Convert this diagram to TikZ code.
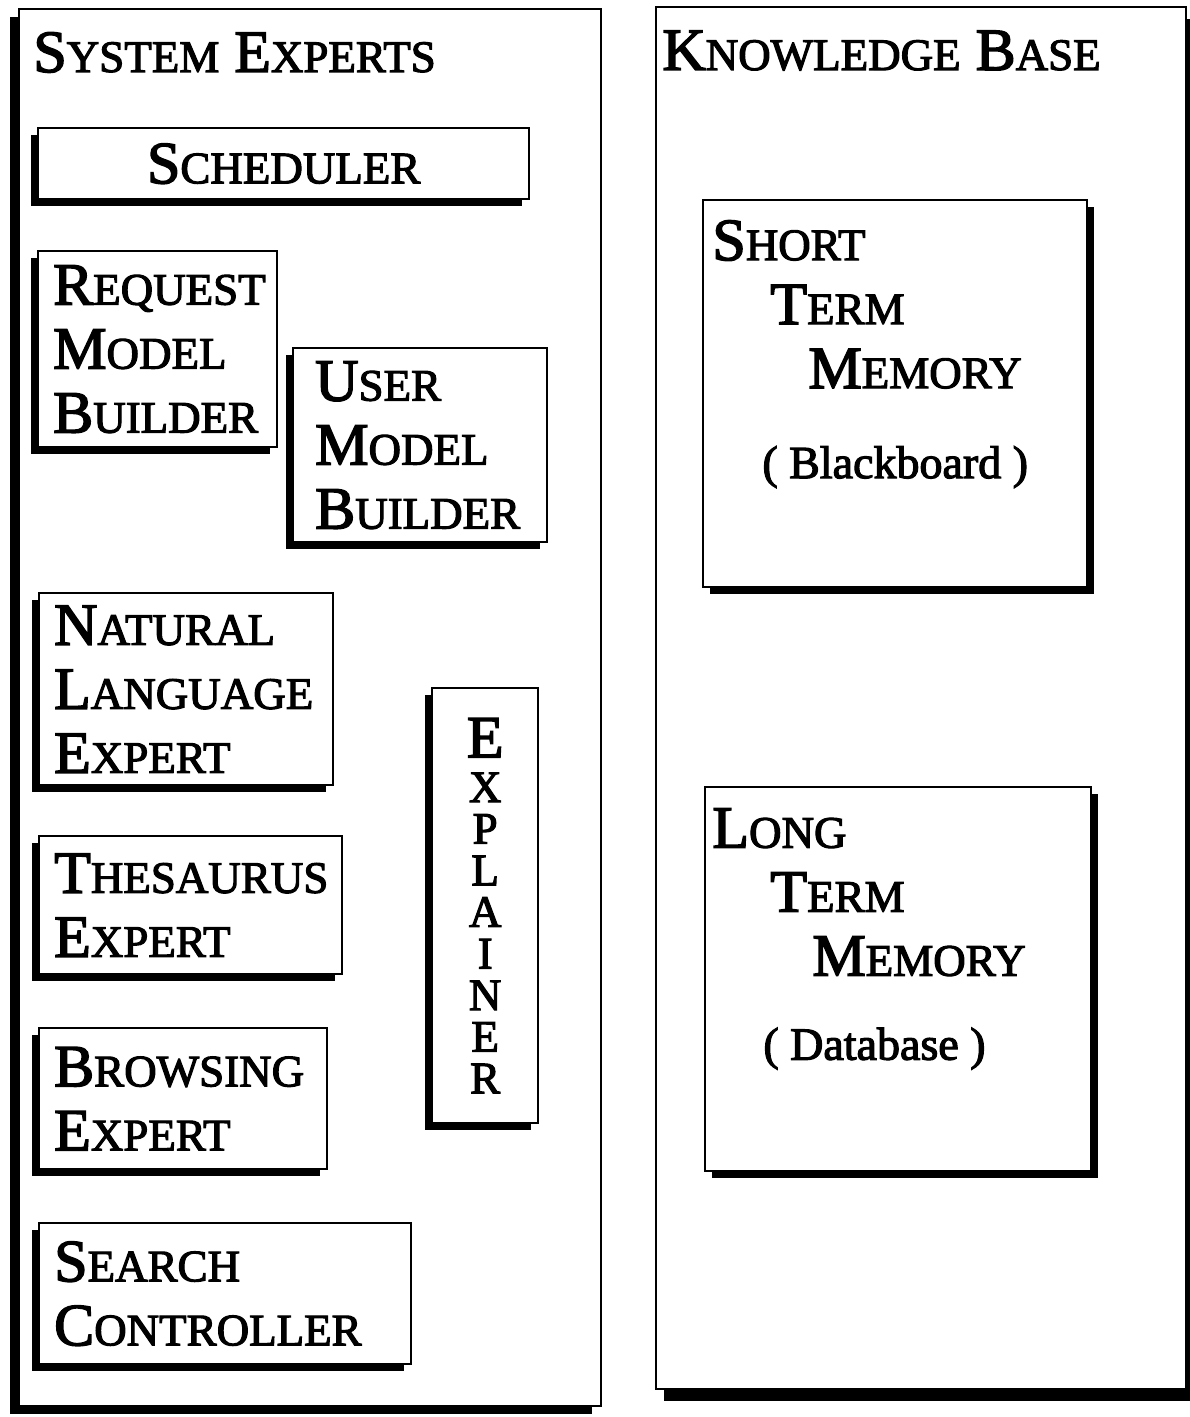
\documentclass[tikz,border=0pt]{standalone}
\usepackage{fontspec}
\setmainfont{Liberation Serif}[FakeBold=2.5]
\usetikzlibrary{positioning,shadows}

% large initial, smaller capitals for the rest of the word
\newcommand*\capword[2]{{\fontsize{30}{32}\selectfont #1}{\fontsize{22.5}{32}\selectfont #2}}

\tikzset{
  shadowleft/.style={drop shadow={shadow xshift=-4.5pt,shadow yshift=-4pt,opacity=1,fill=black}},
  shadowright/.style={drop shadow={shadow xshift=4pt,shadow yshift=-6pt,opacity=1,fill=black}},
  panel/.style={draw,line width=1.2pt,fill=white,anchor=north west,inner sep=0pt},
  expert/.style={draw,line width=1.2pt,fill=white,anchor=north west,
    drop shadow={shadow xshift=-3.5pt,shadow yshift=-3.5pt,opacity=1,fill=black},
    inner xsep=7.5pt,inner ysep=0pt,align=left,font=\fontsize{30}{32}\selectfont},
  memory/.style={draw,line width=1.2pt,fill=white,anchor=north west,inner sep=0pt,
    drop shadow={shadow xshift=3.5pt,shadow yshift=-3.5pt,opacity=1,fill=black}},
  heading/.style={anchor=base west,inner sep=0pt,font=\fontsize{30}{32}\selectfont},
  memtext/.style={inner sep=0pt,align=left,font=\fontsize{30}{32}\selectfont},
}

\begin{document}
\begin{tikzpicture}[x=0.5pt,y=-0.5pt]
\useasboundingbox (0,0) rectangle (1189,1417);

% the two columns
\node[panel,shadowleft,minimum width=291pt,minimum height=698.5pt] (experts) at (18,8) {};
\node[panel,shadowright,minimum width=265pt,minimum height=691pt] (kb) at (655,6) {};

\node[heading] (expertstitle) at (33,72) {\capword{S}{YSTEM} \capword{E}{XPERTS}};
\node[heading] (kbtitle) at (662,70) {\capword{K}{NOWLEDGE} \capword{B}{ASE}};

% system experts
\node[expert,align=center,minimum width=245.5pt,minimum height=35.5pt] (scheduler) at (37,127) {\capword{S}{CHEDULER}};
\node[expert,text width=104.5pt,minimum height=98pt] (requestmb) at (37,250)
  {\capword{R}{EQUEST}\\\capword{M}{ODEL}\\\capword{B}{UILDER}};
\node[expert,inner xsep=11pt,text width=105pt,minimum height=97pt] (usermb) at (292,347)
  {\capword{U}{SER}\\\capword{M}{ODEL}\\\capword{B}{UILDER}};
\node[expert,text width=132pt,minimum height=96pt] (natlang) at (38,592)
  {\capword{N}{ATURAL}\\\capword{L}{ANGUAGE}\\\capword{E}{XPERT}};
\node[expert,text width=136.5pt,minimum height=69pt] (thesaurus) at (38,835)
  {\capword{T}{HESAURUS}\\\capword{E}{XPERT}};
\node[expert,text width=129pt,minimum height=70.5pt] (browsing) at (38,1027)
  {\capword{B}{ROWSING}\\\capword{E}{XPERT}};
\node[expert,text width=171pt,minimum height=70.5pt] (search) at (38,1222)
  {\capword{S}{EARCH}\\\capword{C}{ONTROLLER}};
\node[expert,align=center,inner xsep=0pt,minimum width=53pt,minimum height=217.5pt,
  font=\fontsize{22.5}{20.8}\selectfont] (explainer) at (431,687)
  {{\fontsize{30}{20.8}\selectfont E}\\[1.5pt]X\\P\\L\\A\\I\\N\\E\\R};

% knowledge base
\node[memory,minimum width=192pt,minimum height=193.5pt] (stm) at (702,199) {};
\node[memtext,below right=10.5pt and 5pt of stm.north west] (stmtext)
  {\capword{S}{HORT}\\
   \hspace*{29pt}\capword{T}{ERM}\\
   \hspace*{48pt}\capword{M}{EMORY}\\[13pt]
   \hspace*{25pt}{\fontsize{23}{32}\selectfont ( Blackboard )}};

\node[memory,minimum width=193pt,minimum height=192pt] (ltm) at (704,786) {};
\node[memtext,below right=11pt and 4pt of ltm.north west] (ltmtext)
  {\capword{L}{ONG}\\
   \hspace*{29pt}\capword{T}{ERM}\\
   \hspace*{50pt}\capword{M}{EMORY}\\[10pt]
   \hspace*{25.5pt}{\fontsize{23}{32}\selectfont ( Database )}};
\end{tikzpicture}
\end{document}
